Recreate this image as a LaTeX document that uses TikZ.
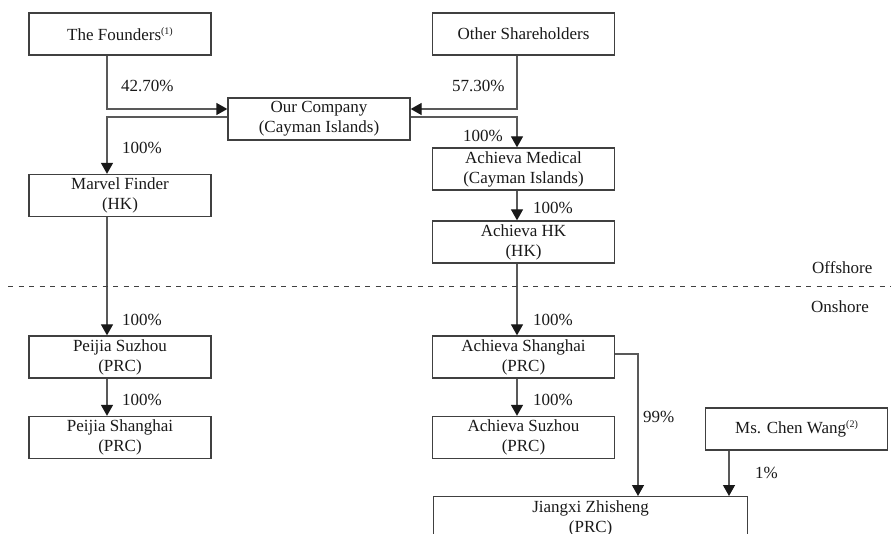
\documentclass[tikz,border=0pt]{standalone}
\usepackage{fontspec}
\setmainfont{Liberation Serif}
\usetikzlibrary{arrows.meta}
\newcommand{\supnote}[1]{\raisebox{6pt}{\fontsize{10}{10}\selectfont(#1)}}
\begin{document}
\begin{tikzpicture}[x=1pt,y=-1pt,
  font=\fontsize{17}{20}\selectfont,
  box/.style={draw=black!75,line width=1.3pt,minimum height=42pt,inner sep=0pt,align=center,text=black!90},
  wbox/.style={box,minimum width=182pt},
  ln/.style={draw=black!65,line width=1.3pt},
  arr/.style={ln,-{Triangle[length=11pt,width=12pt,fill=black!90,color=black!90]}},
  lbl/.style={anchor=west,inner sep=0pt,text=black!90}]
\useasboundingbox (0,0) rectangle (891,534);
\clip (0,0) rectangle (891,534);
% boxes
\node[wbox] (founders) at (120,34) {The Founders\supnote{1}};
\node[wbox] (other) at (523.5,34) {Other Shareholders};
\node[wbox] (ourco) at (319,119) {Our Company\\(Cayman Islands)};
\node[wbox] (marvel) at (120,195.5) {Marvel Finder\\(HK)};
\node[wbox] (medical) at (523.5,169) {Achieva Medical\\(Cayman Islands)};
\node[wbox] (achhk) at (523.5,242) {Achieva HK\\(HK)};
\node[wbox] (psuzhou) at (120,357) {Peijia Suzhou\\(PRC)};
\node[wbox] (pshanghai) at (120,437.5) {Peijia Shanghai\\(PRC)};
\node[wbox] (ashanghai) at (523.5,357) {Achieva Shanghai\\(PRC)};
\node[wbox] (asuzhou) at (523.5,437.5) {Achieva Suzhou\\(PRC)};
\node[wbox] (chen) at (796.5,429) {Ms. Chen Wang\supnote{2}};
\node[box,minimum width=314pt,minimum height=44pt,anchor=north west] (jiangxi) at (433,496) {Jiangxi Zhisheng\\(PRC)};
% x positions
\coordinate (xl) at (107,0);
\coordinate (xr) at (517,0);
\coordinate (xj1) at (638,0);
\coordinate (xj2) at (729,0);
% connectors
\draw[arr] (founders.south -| xl) |- ([yshift=10pt]ourco.west);
\draw[arr] ([yshift=2pt]ourco.west) -| (marvel.north -| xl);
\draw[arr] (other.south -| xr) |- ([yshift=10pt]ourco.east);
\draw[arr] ([yshift=2pt]ourco.east) -| (medical.north -| xr);
\draw[arr] (medical.south -| xr) -- (achhk.north -| xr);
\draw[arr] (achhk.south -| xr) -- (ashanghai.north -| xr);
\draw[arr] (marvel.south -| xl) -- (psuzhou.north -| xl);
\draw[arr] (psuzhou.south -| xl) -- (pshanghai.north -| xl);
\draw[arr] (ashanghai.south -| xr) -- (asuzhou.north -| xr);
\draw[arr] ([yshift=3pt]ashanghai.east) -| (jiangxi.north -| xj1);
\draw[arr] (chen.south -| xj2) -- (jiangxi.north -| xj2);
% dashed divider
\coordinate (dl) at (8,287);
\coordinate (dr) at (891,287);
\draw[draw=black!75,line width=1pt,dash pattern=on 5pt off 5.5pt] (dl) -- (dr);
% labels
\node[lbl] (l1) at (121,86) {42.70\%};
\node[lbl] (l2) at (452,86) {57.30\%};
\node[lbl] (l3) at (122,148) {100\%};
\node[lbl] (l4) at (463,136) {100\%};
\node[lbl] (l5) at (533,208) {100\%};
\node[lbl] (l6) at (122,320) {100\%};
\node[lbl] (l7) at (122,400) {100\%};
\node[lbl] (l8) at (533,320) {100\%};
\node[lbl] (l9) at (533,400) {100\%};
\node[lbl] (l10) at (643,417) {99\%};
\node[lbl] (l11) at (755,473) {1\%};
\node[lbl] (off) at (812,268) {Offshore};
\node[lbl] (on) at (811,307) {Onshore};
\end{tikzpicture}
\end{document}
